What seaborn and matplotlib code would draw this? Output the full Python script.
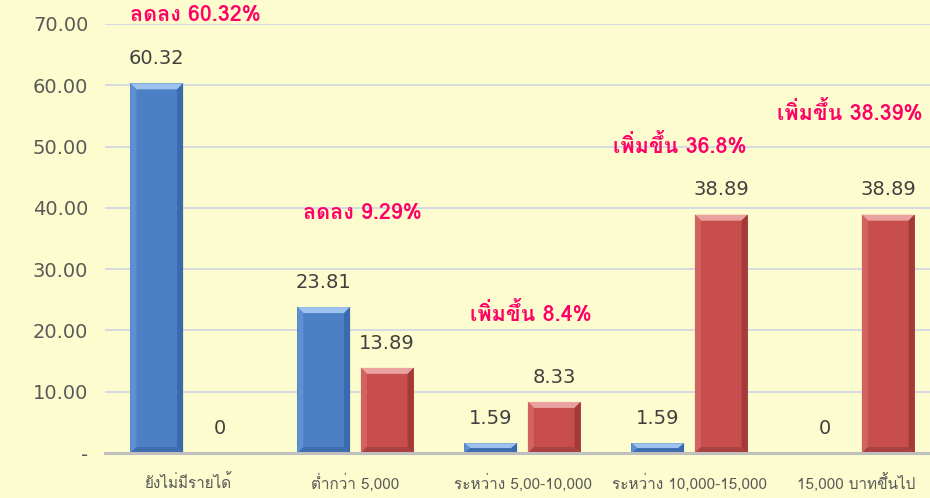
import pandas as pd
import numpy as np
import seaborn as sns
import matplotlib
matplotlib.use("Agg")
import matplotlib.pyplot as plt
from matplotlib import font_manager
from matplotlib.ft2font import FT2Font
from matplotlib.patches import Polygon

# ข้อมูล
categories = ['ยังไม่มีรายได้', 'ต่ำกว่า 5,000', 'ระหว่าง 5,00-10,000',
              'ระหว่าง 10,000-15,000', '15,000 บาทขึ้นไป']
series_names = ['ครั้งที่ 1', 'ครั้งที่ 2']
blue_values = [60.32, 23.81, 1.59, 1.59, 0]
red_values = [0, 13.89, 8.33, 38.89, 38.89]
notes = ['ลดลง 60.32%', 'ลดลง 9.29%', 'เพิ่มขึ้น 8.4%', 'เพิ่มขึ้น 36.8%', 'เพิ่มขึ้น 38.39%']
y_ticks = [0, 10, 20, 30, 40, 50, 60, 70]

# ตำแหน่งของข้อความ (x, y ในหน่วยข้อมูล)
note_pos = [(0.04, 71.4), (1.04, 39.2), (2.05, 22.8), (2.94, 50.1), (3.96, 55.5)]

# หา font ที่มีอักษรไทย
thai_font = None
for f in font_manager.fontManager.ttflist:
    try:
        cmap = FT2Font(f.fname).get_charmap()
    except Exception:
        continue
    if 0x0E01 in cmap and 0x0E49 in cmap:
        thai_font = f.name
        if f.weight in ('normal', 400, 'regular'):
            break

sns.set_style("white")
fams = ([thai_font] if thai_font else []) + ['DejaVu Sans']
plt.rcParams['font.family'] = fams

df = pd.DataFrame({
    'กลุ่ม': categories * 2,
    'ชุด': [series_names[0]] * 5 + [series_names[1]] * 5,
    'ค่า': blue_values + red_values,
})

bg = '#FDFCCE'
fig = plt.figure(figsize=(9.3, 4.98), dpi=100, facecolor=bg)
ax = fig.add_axes([105 / 930, 45 / 498, 835 / 930, 429 / 498])
ax.set_facecolor(bg)

face_cols = ['#4C7FC3', '#C84E4D']
sns.barplot(data=df, x='กลุ่ม', y='ค่า', hue='ชุด', palette=face_cols,
            saturation=1, width=0.76, gap=0.17, legend=False, ax=ax, zorder=3,
            edgecolor='none', linewidth=0)

ax.set_ylim(0, 70)
ax.set_xlim(-0.5, 4.5)
ax.set_yticks(y_ticks)
ax.set_yticklabels(['-' if v == 0 else '{:.2f}'.format(v) for v in y_ticks],
                   fontsize=14, color='#595959', family=['DejaVu Sans'])
ax.tick_params(axis='y', length=0, pad=12)
ax.tick_params(axis='x', length=0, pad=15, labelsize=11, labelcolor='#595959')
ax.set_xlabel('')
ax.set_ylabel('')
ax.yaxis.grid(True, color='#D3D6E6', linewidth=1.3, zorder=0)
ax.xaxis.grid(False)
for s in ['top', 'right', 'left']:
    ax.spines[s].set_visible(False)
ax.spines['bottom'].set_color('#BFBFBF')
ax.spines['bottom'].set_linewidth(2.2)
ax.spines['bottom'].set_zorder(5)

# ขอบนูนแบบ 3 มิติ (บน, ซ้าย, ขวา, ล่าง)
shade = [
    ('#9DC2EE', '#5E90D2', '#3A69AC', '#3F6DAD'),
    ('#EAA2A0', '#D26361', '#A13A39', '#A94241'),
]
fig.canvas.draw()
px_x = 1 / (ax.transData.transform((1, 0))[0] - ax.transData.transform((0, 0))[0])
px_y = 1 / (ax.transData.transform((0, 1))[1] - ax.transData.transform((0, 0))[1])
bev = 6
for i, cont in enumerate(ax.containers):
    top, left, right, bot = shade[i]
    for p in cont.patches:
        h = p.get_height()
        if h <= 0:
            continue
        x0, w = p.get_x(), p.get_width()
        x1 = x0 + w
        bx = bev * px_x
        by = min(bev * px_y, h / 2)
        ax.add_patch(Polygon([(x0, h), (x1, h), (x1 - bx, h - by), (x0 + bx, h - by)],
                             closed=True, facecolor=top, edgecolor='none', zorder=4))
        ax.add_patch(Polygon([(x0, 0), (x0, h), (x0 + bx, h - by), (x0 + bx, by)],
                             closed=True, facecolor=left, edgecolor='none', zorder=4))
        ax.add_patch(Polygon([(x1, 0), (x1, h), (x1 - bx, h - by), (x1 - bx, by)],
                             closed=True, facecolor=right, edgecolor='none', zorder=4))
        ax.add_patch(Polygon([(x0, 0), (x1, 0), (x1 - bx, by), (x0 + bx, by)],
                             closed=True, facecolor=bot, edgecolor='none', zorder=4))

for cont in ax.containers:
    ax.bar_label(cont, labels=['{:g}'.format(v) for v in cont.datavalues],
                 padding=11, fontsize=14, color='#404040', family=['DejaVu Sans'])

for t, (x, y) in zip(notes, note_pos):
    ax.text(x, y, t, ha='center', va='center', fontsize=15.5, fontweight='bold',
            color='#FF0066', clip_on=False, zorder=6)

fig.savefig('out.png', dpi=100, facecolor=bg)
